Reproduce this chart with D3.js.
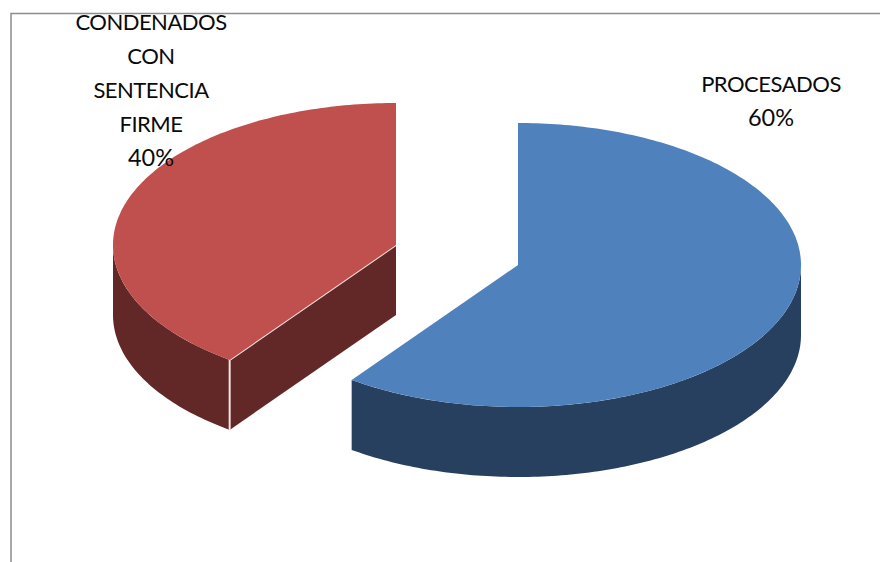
<!DOCTYPE html>
<html>
<head>
<meta charset="utf-8">
<script src="https://cdnjs.cloudflare.com/ajax/libs/d3/7.8.5/d3.min.js"></script>
<style>
html, body { margin: 0; padding: 0; background: #fff; }
svg { display: block; }
text { font-family: Lato, "Open Sans", sans-serif; font-size: 22px; letter-spacing: -0.5px; fill: #0a0a0a; text-anchor: middle; }
text.pct { font-size: 23.5px; letter-spacing: 0; }
</style>
</head>
<body>
<script>
// Data
var categories = ["PROCESADOS", "CONDENADOS CON SENTENCIA FIRME"];
var values = [60, 40];
var labelLines = [["PROCESADOS", "60%"], ["CONDENADOS", "CON", "SENTENCIA", "FIRME", "40%"]];
var topColors = ["#4f81bd", "#c0504d"];
var sideColors = ["#284060", "#622827"];

var width = 880, height = 562;
var rx = 283, ry = 142, depth = 70;
// exploded centres and label anchors of each slice, in px
var centers = [{x: 518, y: 265}, {x: 396, y: 245}];
var labelPos = [{x: 771, y: 92}, {x: 151, y: 30}];
var lineHeight = 34;

var svg = d3.select("body").append("svg")
    .attr("width", width)
    .attr("height", height);

svg.append("clipPath").attr("id", "plot")
  .append("rect").attr("x", 12).attr("y", 14).attr("width", width).attr("height", height);

//frame of the chart, only top and left show
svg.append("path")
    .attr("d", d3.line()([[11, height], [11, 13.5], [width, 13.5]]))
    .attr("fill", "none")
    .attr("stroke", "#8c8c8c")
    .attr("stroke-width", 1.5);

var pie = d3.pie().sort(null).value(function(d) { return d; });
var arcs = pie(values);

var px = d3.scaleLinear().domain([-1, 1]).range([-rx, rx]);
var py = d3.scaleLinear().domain([-1, 1]).range([ry, -ry]);

// point on the tilted ellipse, angle clockwise from 12 o'clock
function onEllipse(a, c, dy) {
  return [c.x + px(Math.sin(a)), c.y + py(Math.cos(a)) + dy];
}
function sweep(a0, a1) {
  var n = Math.max(2, Math.ceil((a1 - a0) * 60));
  return d3.range(n + 1).map(function(i) { return a0 + (a1 - a0) * i / n; });
}

var line = d3.line();

arcs.forEach(function(d, i) {
  var c = centers[i];
  var g = svg.append("g");

  // outer wall, the part of the rim facing the viewer
  var a0 = Math.max(d.startAngle, Math.PI / 2);
  var a1 = Math.min(d.endAngle, 3 * Math.PI / 2);
  var rim = sweep(a0, a1);
  var wall = rim.map(function(a) { return onEllipse(a, c, 0); })
    .concat(rim.slice().reverse().map(function(a) { return onEllipse(a, c, depth); }));
  g.append("path").attr("d", line(wall) + "Z").attr("fill", sideColors[i]);

  // cut face of the red slice shows toward the viewer
  if (i === 1) {
    var p = onEllipse(d.startAngle, c, 0);
    g.append("path")
      .attr("d", line([[c.x, c.y], p, [p[0], p[1] + depth], [c.x, c.y + depth]]) + "Z")
      .attr("fill", sideColors[i]);
    // thin light edges of that face
    g.append("path")
      .attr("d", line([[c.x, c.y], p, [p[0], p[1] + depth]]))
      .attr("fill", "none")
      .attr("stroke", "#f3e4e3")
      .attr("stroke-width", 2);
  }

  // top of the slice
  var top = [[c.x, c.y]].concat(sweep(d.startAngle, d.endAngle).map(function(a) {
    return onEllipse(a, c, 0);
  }));
  g.append("path").attr("d", line(top) + "Z").attr("fill", topColors[i]);
});

// labels, the top one is cut by the frame as in the original
var labels = svg.append("g").attr("clip-path", "url(#plot)");
labelLines.forEach(function(lines, i) {
  lines.forEach(function(t, j) {
    labels.append("text")
      .attr("class", j === lines.length - 1 ? "pct" : null)
      .attr("x", labelPos[i].x)
      .attr("y", labelPos[i].y + j * lineHeight)
      .text(t);
  });
});
</script>
</body>
</html>
